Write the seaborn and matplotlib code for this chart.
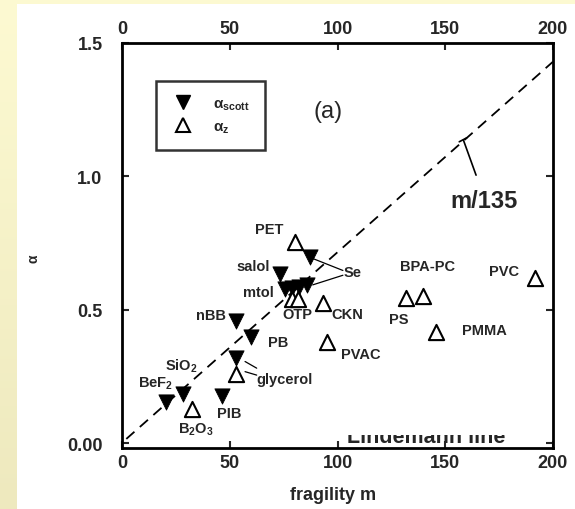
import numpy as np
import pandas as pd
import seaborn as sns
import matplotlib.pyplot as plt
from matplotlib.lines import Line2D
from matplotlib.patches import Rectangle
from matplotlib.colors import LinearSegmentedColormap

# ---------------- data ----------------
scott_names = ['Se', 'salol', 'mtol', 'OTP', 'CKN', 'Se-2', 'nBB', 'PB',
               'glycerol', 'SiO2', 'BeF2', 'PIB']
scott_m = [87.2, 73.2, 75.6, 78.8, 82.0, 86.0, 53.1, 60.0, 53.1, 28.5, 20.5, 46.3]
scott_alpha = [0.697, 0.635, 0.579, 0.581, 0.585, 0.592, 0.460, 0.398, 0.319,
               0.185, 0.154, 0.179]

z_names = ['PET', 'OTP', 'OTP-2', 'CKN', 'PVAC', 'glycerol', 'B2O3', 'PS',
           'BPA-PC', 'PMMA', 'PVC']
z_m = [80.4, 78.7, 81.8, 93.1, 95.3, 53.1, 32.7, 131.9, 139.9, 145.5, 191.8]
z_alpha = [0.756, 0.541, 0.541, 0.526, 0.379, 0.260, 0.129, 0.545, 0.554,
           0.416, 0.619]

line_m = [2.0, 200.0]
line_alpha = [0.017, 1.43]

label_text = ['PET', 'salol', 'mtol', 'Se', 'BPA-PC', 'PVC', 'OTP', 'CKN', 'PS',
              'PMMA', 'nBB', 'PB', 'PVAC', 'SiO$_2$', 'BeF$_2$', 'glycerol',
              'PIB', 'B$_2$O$_3$']
label_m = [68.4, 60.8, 63.3, 107.1, 141.6, 177.4, 81.2, 104.7, 128.5, 168.0,
           41.3, 72.4, 111.0, 27.6, 15.7, 75.3, 49.7, 34.4]
label_alpha = [0.803, 0.666, 0.566, 0.641, 0.666, 0.647, 0.485, 0.485, 0.466,
               0.425, 0.481, 0.381, 0.335, 0.291, 0.229, 0.242, 0.114, 0.054]

x_ticks = [0, 50, 100, 150, 200]
y_ticks = [0.0, 0.5, 1.0, 1.5]
y_ticklabels = ['0.00', '0.5', '1.0', '1.5']

# ---------------- styling ----------------
sns.set_style('ticks')
plt.rcParams['font.family'] = ['Liberation Sans', 'DejaVu Sans']
plt.rcParams['mathtext.fontset'] = 'custom'
plt.rcParams['mathtext.rm'] = 'Liberation Sans:bold'
plt.rcParams['mathtext.it'] = 'Liberation Sans:bold'
plt.rcParams['mathtext.bf'] = 'Liberation Sans:bold'
plt.rcParams['mathtext.default'] = 'rm'

W, H = 575, 510
fig = plt.figure(figsize=(W / 100, H / 100), dpi=100)

# yellow slide background with white panel
bg = fig.add_axes([0, 0, 1, 1], zorder=-10)
grad = np.linspace(0, 1, 256).reshape(-1, 1)
cmap = LinearSegmentedColormap.from_list('bg', ['#FDFAD2', '#EEE9BE'])
bg.imshow(grad, aspect='auto', cmap=cmap, extent=[0, 1, 0, 1])
bg.add_patch(Rectangle((17 / W, 0), 1, (H - 5) / H, color='white', lw=0))
bg.set_xlim(0, 1)
bg.set_ylim(0, 1)
bg.axis('off')

ax = fig.add_axes([122 / W, 1 - 449 / H, 431 / W, 405 / H])
ax.set_facecolor('white')

# dashed line
sns.lineplot(x=line_m, y=line_alpha, ax=ax, color='black', lw=1.3,
             dashes=False, linestyle=(0, (6, 4)), legend=False)

df_s = pd.DataFrame({'m': scott_m, 'alpha': scott_alpha, 'name': scott_names})
df_z = pd.DataFrame({'m': z_m, 'alpha': z_alpha, 'name': z_names})
sns.scatterplot(data=df_s, x='m', y='alpha', marker='v', s=120,
                color='black', edgecolor='black', linewidth=0.6, ax=ax,
                zorder=3, legend=False)
sns.scatterplot(data=df_z, x='m', y='alpha', marker='^', s=120,
                facecolor='white', edgecolor='black', linewidth=1.5, ax=ax,
                zorder=3, legend=False)

for t, xm, ya in zip(label_text, label_m, label_alpha):
    ax.text(xm, ya, t, ha='center', va='center', fontsize=10.5,
            fontweight='bold', zorder=4)

# leader lines
lk = dict(color='black', lw=0.9, zorder=2)
ax.plot([87.2, 102.5], [0.697, 0.648], **lk)
ax.plot([88.5, 102.5], [0.594, 0.630], **lk)
ax.plot([57.1, 62.5], [0.307, 0.282], **lk)
ax.plot([57.1, 62.5], [0.269, 0.256], **lk)
ax.plot([158.4, 164.3], [1.137, 1.005], color='black', lw=1.2)
ax.plot([156.5, 160.0], [1.130, 1.145], color='black', lw=1.2)

ax.text(168, 0.909, 'm/135', ha='center', va='center', fontsize=17,
        fontweight='bold')
ax.text(95.7, 1.246, '(a)', ha='center', va='center', fontsize=17)

# partially hidden caption text (covered by a white strip, as in the source)
ax.text(104.5, 0.004, 'Lindemann line', ha='left', va='baseline', fontsize=15.5,
        fontweight='bold', zorder=1)
ax.add_patch(Rectangle((95, 0.031), 110, 0.12, color='white', lw=0, zorder=1.5))

ax.set_xlim(0, 200)
ax.set_ylim(-0.017, 1.5)
ax.set_xticks(x_ticks)
ax.set_xticklabels([str(v) for v in x_ticks])
ax.set_yticks(y_ticks)
ax.set_yticklabels(y_ticklabels)
ax.tick_params(axis='both', direction='in', length=5, width=1.5,
               top=True, right=True, labeltop=True, labelsize=13)
ax.tick_params(axis='x', pad=4)
ax.tick_params(axis='y', pad=14)
for lab in ax.get_xticklabels() + ax.get_yticklabels():
    lab.set_fontweight('bold')
for sp in ax.spines.values():
    sp.set_linewidth(2)
    sp.set_color('black')

ax.set_xlabel('fragility m', fontsize=13, fontweight='bold')
ax.xaxis.set_label_coords(0.49, -0.095)
ax.set_ylabel('α', fontsize=10, fontweight='bold')
ax.yaxis.set_label_coords(-0.19, 0.47)

handles = [Line2D([], [], marker='v', ls='', color='black', markersize=10),
           Line2D([], [], marker='^', ls='', markerfacecolor='white',
                  markeredgecolor='black', markeredgewidth=1.5, markersize=10)]
leg = ax.legend(handles, ['α$_{scott}$', 'α$_{z}$'], loc='upper left',
                bbox_to_anchor=(0.079, 0.906), borderaxespad=0, fancybox=False,
                frameon=True, edgecolor='black', fontsize=11, handlelength=1.5,
                handletextpad=1.2, borderpad=1.0, labelspacing=0.5)
leg.get_frame().set_linewidth(1.8)
for txt in leg.get_texts():
    txt.set_fontweight('bold')

fig.savefig('out.png', dpi=100)
